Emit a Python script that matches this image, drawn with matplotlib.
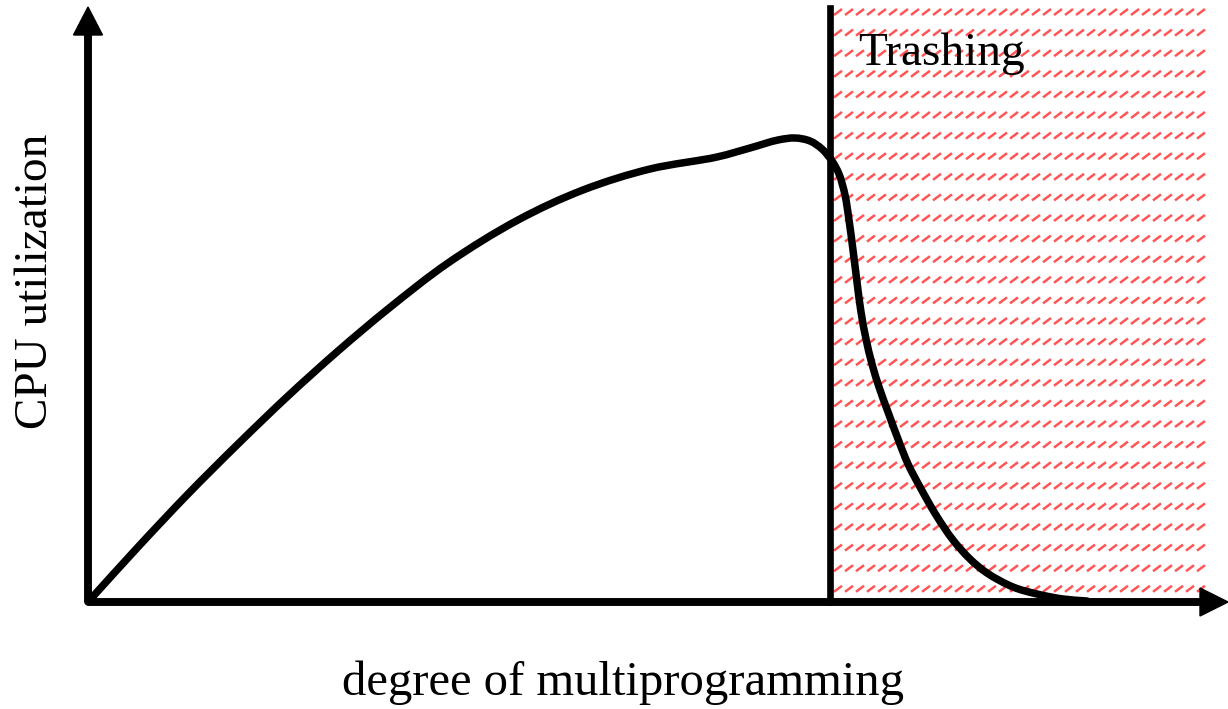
import numpy as np
import matplotlib.pyplot as plt
from matplotlib.collections import LineCollection
from matplotlib.path import Path
from matplotlib.patches import PathPatch

# CPU utilization against degree of multiprogramming (drawing units)
degree = [0, 50, 100, 150, 200, 250, 300, 360, 430, 495, 562, 629, 662, 690,
          707, 722, 734, 744, 751, 757, 761, 765, 769, 773, 778, 784, 791,
          800, 810, 820, 832, 848, 865, 882, 899, 925, 949, 975, 999]
utilization = [0, 55, 108, 158, 206, 251, 293, 339, 382, 412, 433, 445, 454,
               462, 464, 461, 453, 441, 428, 407, 382, 352, 320, 290, 263,
               238, 215, 190, 163, 138, 115, 87, 62, 43, 29, 15, 8, 3, 1]

thrash_start = 742
thrash_end = 1117
y_top = 594
x_axis_end = 1140
y_axis_end = 595


def smooth_path(xs, ys, alpha=0.5):
    # centripetal Catmull-Rom through the points, as cubic Bezier pieces
    p = np.column_stack([xs, ys]).astype(float)
    ext = np.vstack([2 * p[0] - p[1], p, 2 * p[-1] - p[-2]])
    verts = [p[0]]
    codes = [Path.MOVETO]
    for i in range(1, len(ext) - 2):
        p0, p1, p2, p3 = ext[i - 1], ext[i], ext[i + 1], ext[i + 2]
        d0 = np.linalg.norm(p1 - p0) ** alpha
        d1 = np.linalg.norm(p2 - p1) ** alpha
        d2 = np.linalg.norm(p3 - p2) ** alpha
        t1 = (p1 - p0) / d0 - (p2 - p0) / (d0 + d1) + (p2 - p1) / d1
        t2 = (p2 - p1) / d1 - (p3 - p1) / (d1 + d2) + (p3 - p2) / d2
        verts += [p1 + t1 * d1 / 3, p2 - t2 * d1 / 3, p2]
        codes += [Path.CURVE4] * 3
    return Path(verts, codes)


plt.rcParams['font.family'] = ['Liberation Serif', 'DejaVu Serif']

fig = plt.figure(figsize=(12.28, 7.09), dpi=100)
ax = fig.add_axes([0, 0, 1, 1])
ax.set_xlim(-88, 1140)
ax.set_ylim(-107, 602)
ax.axis('off')

# red slash texture over the thrashing region
segs = []
for y in np.arange(y_top - 4, 0, -20.6):
    for x in np.arange(thrash_start + 4, thrash_end - 6, 11):
        segs.append([(x, y - 3), (x + 8, y + 3)])
ax.add_collection(LineCollection(segs, colors='#ff2a2a', linewidths=1.8, alpha=0.8, zorder=1))

# curve
ax.add_patch(PathPatch(smooth_path(degree, utilization), fill=False,
                       edgecolor='black', lw=5.4, capstyle='round',
                       joinstyle='round', zorder=3))

# threshold line
ax.plot([thrash_start, thrash_start], [0, y_top], color='black', lw=4.8, zorder=4)

# axes with arrows
ax.arrow(0, 0, x_axis_end - 28, 0, width=6.5, head_width=28, head_length=28,
         length_includes_head=False, color='black', zorder=5)
ax.arrow(0, 0, 0, y_axis_end - 28, width=6.5, head_width=29, head_length=28,
         length_includes_head=False, color='black', zorder=5)

ax.text(770, 537, 'Trashing', fontsize=34, ha='left', va='baseline', zorder=6)
ax.text(-52, 321, 'CPU utilization', fontsize=34, rotation=90,
        ha='center', va='center')
ax.text(535, -93, 'degree of multiprogramming', fontsize=35,
        ha='center', va='baseline')

fig.savefig('out.png', dpi=100)
